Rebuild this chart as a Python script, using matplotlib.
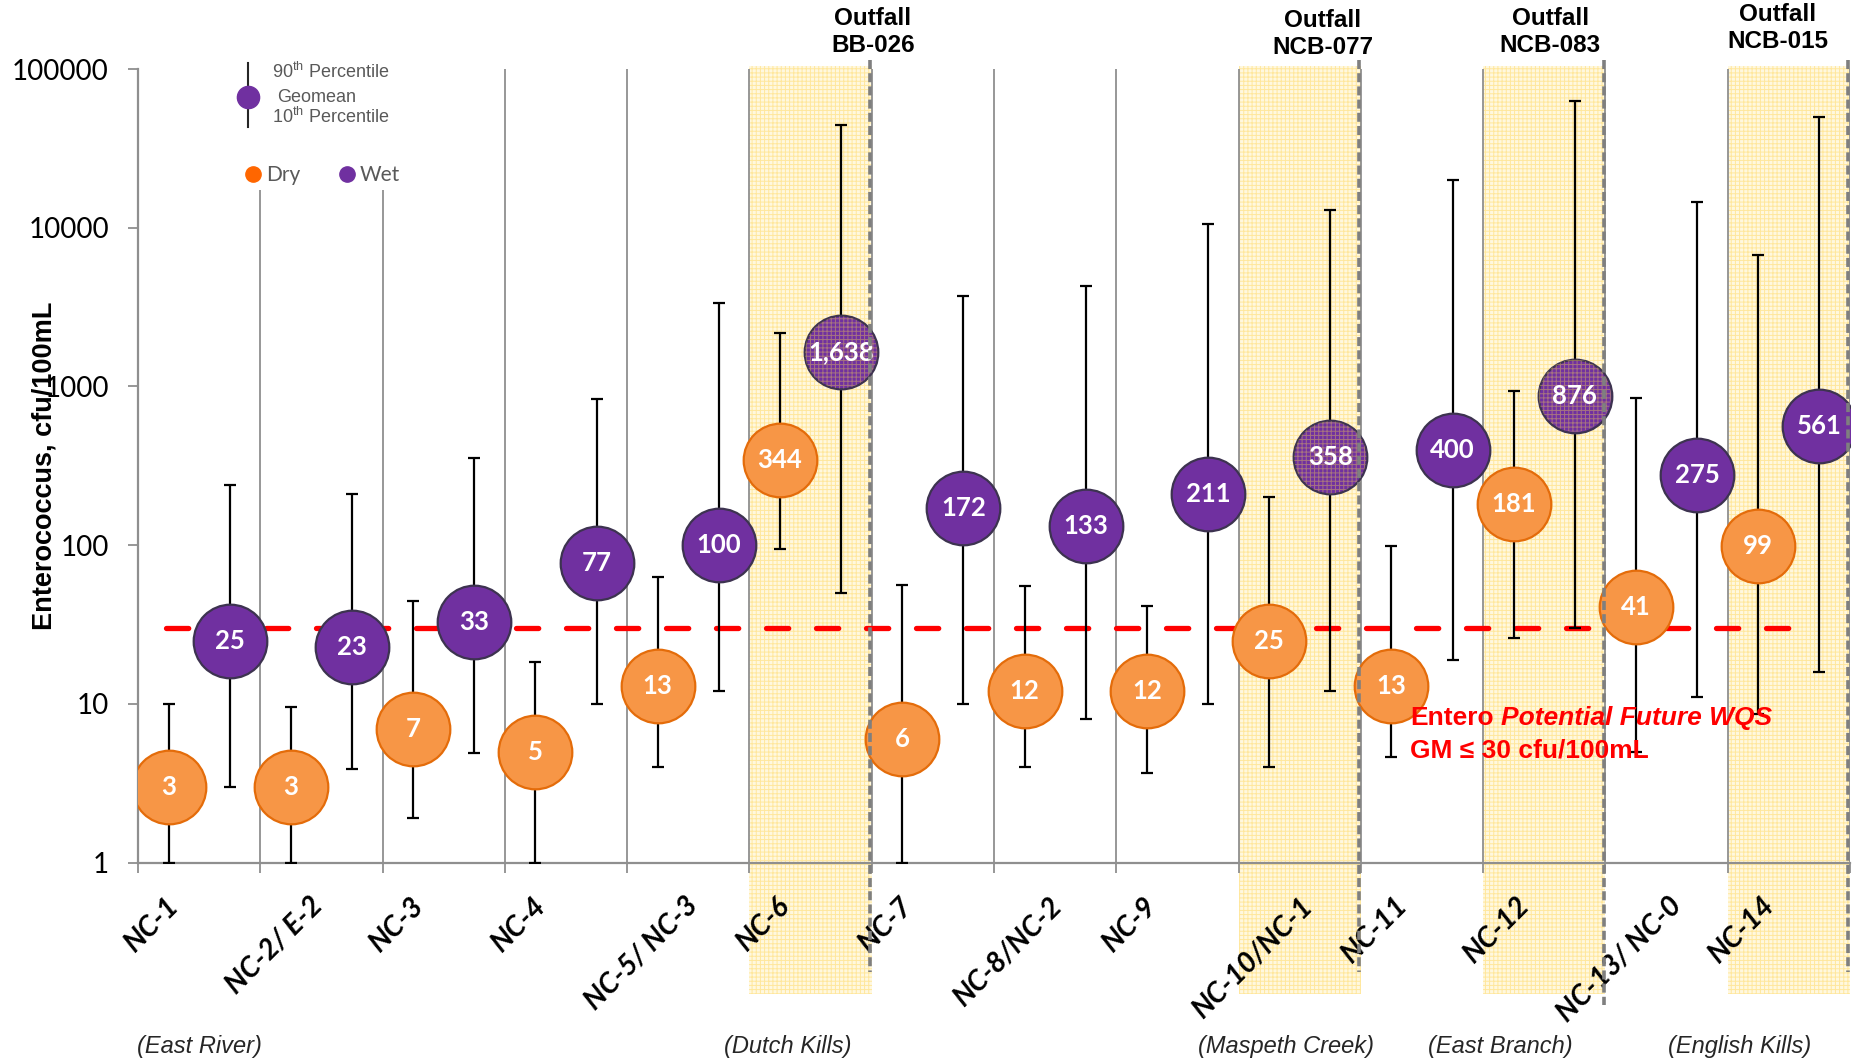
import numpy as np
import matplotlib
matplotlib.use('Agg')
import matplotlib.pyplot as plt
import matplotlib.transforms as mtrans
from matplotlib.patches import Rectangle
from matplotlib.lines import Line2D
from matplotlib.ticker import NullLocator

plt.rcParams['lines.scale_dashes'] = False
plt.rcParams['mathtext.fontset'] = 'custom'
plt.rcParams['mathtext.rm'] = 'Liberation Sans'
plt.rcParams['hatch.linewidth'] = 0.7

# sampling stations, upstream order
sites = ['NC-1', 'NC-2/ E-2', 'NC-3', 'NC-4', 'NC-5/ NC-3', 'NC-6', 'NC-7',
         'NC-8/NC-2', 'NC-9', 'NC-10/NC-1', 'NC-11', 'NC-12', 'NC-13/ NC-0', 'NC-14']

# dry weather geomean and 10th/90th percentiles (cfu/100mL)
dry_gm  = [3, 3, 7, 5, 13, 344, 6, 12, 12, 25, 13, 181, 41, 99]
dry_p90 = [10, 9.6, 44.6, 18.4, 63, 2170, 56, 55, 41.5, 201, 99, 938, 844, 6740]
dry_p10 = [1, 1, 1.9, 1, 4.0, 94, 1, 4.0, 3.7, 4.0, 4.6, 26, 5.0, 8.6]

# wet weather geomean and 10th/90th percentiles (cfu/100mL)
wet_gm  = [25, 23, 33, 77, 100, 1638, 172, 133, 211, 358, 400, 876, 275, 561]
wet_p90 = [241, 211, 356, 832, 3350, 44500, 3720, 4300, 10600, 12970, 19950, 63000, 14500, 49700]
wet_p10 = [3.0, 3.9, 4.9, 10, 12, 50, 10, 8.0, 10, 12, 19, 30, 11, 16]

wqs_gm = 30

regions   = ['(East River)', '(Dutch Kills)', '(Maspeth Creek)', '(East Branch)', '(English Kills)']
region_x  = [0.5, 5.31, 9.39, 11.14, 13.1]
outfalls  = ['Outfall\nBB-026', 'Outfall\nNCB-077', 'Outfall\nNCB-083', 'Outfall\nNCB-015']
outfall_x = [6.01, 9.69, 11.55, 13.41]
reaches   = [5, 9, 11, 13]          # station index next to each outfall

W, H = 1860, 1060
ORANGE, ORANGE_EDGE = '#F79646', '#E46C0A'
PURPLE, PURPLE_EDGE = '#7030A0', '#3D3350'
GRID = '#8F8F8F'
GREYTXT = '#595959'


def fx(x):
    return x / W


def fy(y):
    return 1 - y / H


fig = plt.figure(figsize=(W / 100, H / 100), dpi=100, facecolor='white')
ax = fig.add_axes([fx(138), fy(862.7), fx(1712), 793.7 / H])
ax.set_yscale('log')
ax.set_ylim(1, 1e5)
ax.set_xlim(0, len(sites))

for s in ['top', 'right']:
    ax.spines[s].set_visible(False)
for s in ['left', 'bottom']:
    ax.spines[s].set_color(GRID)
    ax.spines[s].set_linewidth(1.6)

ax.set_yticks([1, 10, 100, 1000, 10000, 100000])
ax.set_yticklabels(['1', '10', '100', '1000', '10000', '100000'], family='Lato', fontsize=20)
ax.yaxis.set_minor_locator(NullLocator())
ax.tick_params(axis='y', direction='out', length=7, width=1.3, color=GRID, pad=14)
ax.set_xticks(np.arange(len(sites) + 1))
ax.tick_params(axis='x', direction='out', length=7, width=1.3, color=GRID, labelbottom=False)
ax.grid(axis='x', color=GRID, lw=1.3, zorder=1)
ax.grid(axis='y', visible=False)

xt = ax.get_xaxis_transform()

# shaded reaches below the outfalls
for i in reaches:
    ax.add_patch(Rectangle((i, -0.165), 1, 1.169, transform=xt, facecolor='#FFF8DF',
                           lw=0, clip_on=False, zorder=0.5))
    ax.add_patch(Rectangle((i, -0.165), 1, 1.169, transform=xt, facecolor='none',
                           edgecolor='#FFD966', hatch='++++', lw=0, clip_on=False,
                           alpha=0.55, zorder=0.6))
    yb = -0.179 if i == 11 else -0.1377
    ax.plot([i + 0.985] * 2, [1.0113, yb], transform=xt, color='#7F7F7F', lw=2.6,
            dashes=(6.5, 3), clip_on=False, zorder=7)

# geomean standard
ax.plot([0.23, 13.66], [wqs_gm, wqs_gm], color='#FF0000', lw=3.8, dashes=(16, 20),
        dash_capstyle='round', zorder=2.5)

x = np.arange(len(sites))
xd = x + 0.25
xw = x + 0.75
dry_gm, dry_p10, dry_p90 = map(np.array, (dry_gm, dry_p10, dry_p90))
wet_gm, wet_p10, wet_p90 = map(np.array, (wet_gm, wet_p10, wet_p90))

ax.errorbar(xd, dry_gm, yerr=[dry_gm - dry_p10, dry_p90 - dry_gm], fmt='none',
            ecolor='black', elinewidth=1.6, capsize=4.3, capthick=1.6, zorder=3)
ax.errorbar(xw, wet_gm, yerr=[wet_gm - wet_p10, wet_p90 - wet_gm], fmt='none',
            ecolor='black', elinewidth=1.6, capsize=4.3, capthick=1.6, zorder=3)

ax.plot(xd, dry_gm, 'o', ls='none', ms=53, mfc=ORANGE, mec=ORANGE_EDGE, mew=1.6, zorder=4)
ax.plot(xw, wet_gm, 'o', ls='none', ms=53, mfc=PURPLE, mec=PURPLE_EDGE, mew=1.6, zorder=4)

# dotted texture on the wet markers sitting under the outfall shading
tex = reaches[:3]
ax.scatter(xw[tex], wet_gm[tex], s=52 ** 2, facecolors='none', edgecolors='#E8C65A',
           linewidths=0, hatch='++++', alpha=0.45, zorder=4.5)

for xs, vals in [(xd, dry_gm), (xw, wet_gm)]:
    for xi, v in zip(xs, vals):
        ax.text(xi, v, f'{v:,}', ha='center', va='center', color='white', fontsize=18.5,
                fontweight='bold', family='Lato', zorder=5)

# station labels
for i, name in enumerate(sites):
    ax.text(i + 0.115, -0.037, name, transform=xt, rotation=45, ha='center', va='top',
            fontsize=20.5, fontweight='bold', style='italic', family='Lato', clip_on=False)

ft = mtrans.blended_transform_factory(ax.transData, fig.transFigure)
for name, rx in zip(regions, region_x):
    ax.text(rx, fy(1046), name, transform=ft, ha='center', va='center', fontsize=17,
            style='italic', family='Liberation Sans', color='#262626')

for name, ox, top in zip(outfalls, outfall_x, [7, 9, 7, 3]):
    ax.text(ox, fy(top), name, transform=ft, ha='center', va='top', fontsize=17.5,
            fontweight='bold', family='Liberation Sans', linespacing=1.2)

fig.text(fx(44), fy(466), 'Enterococcus, cfu/100mL', rotation=90, ha='center', va='center',
         fontsize=19.5, fontweight='bold', family='Liberation Sans')

# standard annotation
t1 = fig.text(fx(1410), fy(725), 'Entero', color='#FF0000', fontsize=19, fontweight='bold',
              family='Liberation Sans', va='baseline')
fig.text(fx(1410), fy(757), 'GM \u2264 30 cfu/100mL', color='#FF0000', fontsize=19,
         fontweight='bold', family='Liberation Sans', va='baseline')
fig.canvas.draw()
bb = t1.get_window_extent()
fig.text(bb.x1 / W + fx(7), fy(725), 'Potential Future WQS', color='#FF0000', fontsize=19,
         fontweight='bold', style='italic', family='Liberation Sans', va='baseline')

# legend
fig.add_artist(Rectangle((fx(180), fy(190)), fx(240), 135 / H, transform=fig.transFigure,
                         facecolor='white', edgecolor='none', zorder=1))
fig.add_artist(Line2D([fx(248)] * 2, [fy(63), fy(127)], color='#262626', lw=1.5, zorder=2))
fig.add_artist(Line2D([fx(248)], [fy(97)], marker='o', ms=16, mfc=PURPLE, mec=PURPLE,
                      zorder=3))
for txt, lx, ly in [(r'90$^{\mathrm{th}}$ Percentile', 272, 72), ('Geomean', 277, 97),
                    (r'10$^{\mathrm{th}}$ Percentile', 272, 117)]:
    fig.text(fx(lx), fy(ly), txt, color=GREYTXT, fontsize=13, family='Liberation Sans',
             va='center', zorder=3)
for lbl, c, lx in [('Dry', '#FF6600', 253), ('Wet', PURPLE, 347)]:
    fig.add_artist(Line2D([fx(lx)], [fy(174)], marker='o', ms=11, mfc=c, mec=c, zorder=3))
    fig.text(fx(lx + 13), fy(175), lbl, color=GREYTXT, fontsize=15, family='Lato',
             va='center', zorder=3)

fig.savefig('out.png', dpi=100, facecolor='white')
